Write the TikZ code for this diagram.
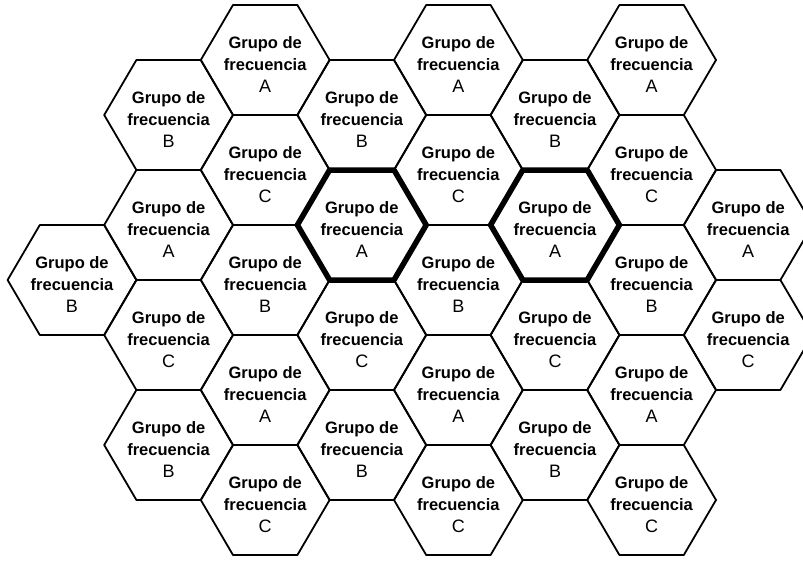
\documentclass[tikz,border=0pt]{standalone}
\usepackage{fontspec}
\setmainfont{Liberation Sans}
\begin{document}
\begin{tikzpicture}[x=1pt,y=-1pt,
  hexline/.style={draw=black,line width=1.8pt,line join=round},
  hexbold/.style={draw=black,line width=5.5pt,line join=round},
  cellname/.style={align=center,inner sep=0pt,font=\fontsize{16.5}{22}\selectfont\bfseries}]
\useasboundingbox (0,0) rectangle (803,562);
\clip (0,0) rectangle (803,562);
\def\R{64.4}
\def\H{55}
\foreach \x/\y/\l/\n in {
  72/280/B/c0a,
  168.6/115/B/c1a, 168.6/225/A/c1b, 168.6/335/C/c1c, 168.6/445/B/c1d,
  265.2/60/A/c2a, 265.2/170/C/c2b, 265.2/280/B/c2c, 265.2/390/A/c2d, 265.2/500/C/c2e,
  361.8/115/B/c3a, 361.8/225/A/c3b, 361.8/335/C/c3c, 361.8/445/B/c3d,
  458.4/60/A/c4a, 458.4/170/C/c4b, 458.4/280/B/c4c, 458.4/390/A/c4d, 458.4/500/C/c4e,
  555/115/B/c5a, 555/225/A/c5b, 555/335/C/c5c, 555/445/B/c5d,
  651.6/60/A/c6a, 651.6/170/C/c6b, 651.6/280/B/c6c, 651.6/390/A/c6d, 651.6/500/C/c6e,
  748.2/225/A/c7a, 748.2/335/C/c7b}
{
  \draw[hexline] ({\x-\R},\y) -- ({\x-\R/2},{\y-\H}) -- ({\x+\R/2},{\y-\H})
     -- ({\x+\R},\y) -- ({\x+\R/2},{\y+\H}) -- ({\x-\R/2},{\y+\H}) -- cycle;
  \node[cellname] (\n) at (\x,{\y+5}) {Grupo de\\frecuencia\\{\fontsize{18}{22}\selectfont\mdseries\l}};
}
\foreach \x/\y in {361.8/225, 555/225}
{
  \draw[hexbold] ({\x-\R},\y) -- ({\x-\R/2},{\y-\H}) -- ({\x+\R/2},{\y-\H})
     -- ({\x+\R},\y) -- ({\x+\R/2},{\y+\H}) -- ({\x-\R/2},{\y+\H}) -- cycle;
}
\end{tikzpicture}
\end{document}
